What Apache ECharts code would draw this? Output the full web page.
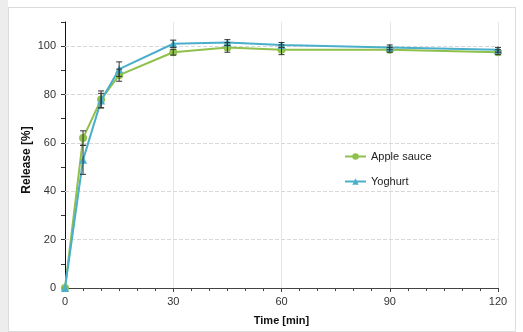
<!DOCTYPE html>
<html lang="en">
<head>
    <meta charset="utf-8">
    <title>Release</title>
    <script type="text/javascript" src="https://cdn.jsdelivr.net/npm/echarts@6/dist/echarts.min.js"></script>
    <style>
        html, body { margin: 0; padding: 0; background: #fff; }
        #strip { position: absolute; left: 0; top: 0; width: 8px; height: 332px; background: #ededed; }
        #main { position: absolute; left: 8px; top: 7px; width: 506px; height: 323px; border: 1px solid #dcdcdc; background: #fff; }
    </style>
</head>
<body>
<div id="strip"></div>
<div id="main"></div>
<script>
    // 数据
    var times = [0, 5, 10, 15, 30, 45, 60, 90, 120];
    var appleSauce = [0, 62, 78, 88, 97.5, 99.5, 98.5, 98.5, 97.5];
    var appleErr = [0, 3, 3.5, 2.5, 1.2, 2, 2, 1, 1];
    var yoghurt = [0, 53, 77.5, 90.5, 101, 101.5, 100.5, 99.5, 98.5];
    var yoghurtErr = [0, 6, 3, 3, 1.5, 1.2, 1, 1, 1];
    var xTicks = [0, 30, 60, 90, 120];
    var yTicks = [20, 40, 60, 80, 100];

    var green = '#8fc04c';
    var blue = '#4aafca';

    function pairs(vals) {
        var out = [];
        for (var i = 0; i < times.length; i++) out.push([times[i], vals[i]]);
        return out;
    }
    function errData(vals, errs) {
        var out = [];
        for (var i = 0; i < times.length; i++) {
            if (errs[i] > 0) out.push([times[i], vals[i] - errs[i], vals[i] + errs[i]]);
        }
        return out;
    }
    function errRender(params, api) {
        var lo = api.coord([api.value(0), api.value(1)]);
        var hi = api.coord([api.value(0), api.value(2)]);
        var w = 3;
        var st = { stroke: '#333', lineWidth: 1 };
        return {
            type: 'group',
            children: [
                { type: 'line', shape: { x1: lo[0], y1: lo[1], x2: hi[0], y2: hi[1] }, style: st },
                { type: 'line', shape: { x1: lo[0] - w, y1: lo[1], x2: lo[0] + w, y2: lo[1] }, style: st },
                { type: 'line', shape: { x1: hi[0] - w, y1: hi[1], x2: hi[0] + w, y2: hi[1] }, style: st }
            ]
        };
    }

    var myChart = echarts.init(document.getElementById('main'));
    var option = {
        animation: false,
        textStyle: { fontFamily: 'Liberation Sans, Arial, sans-serif' },
        grid: { left: 56, right: 17, top: 14, bottom: 40 },
        graphic: [{
            type: 'text',
            x: 18,
            y: 152,
            rotation: Math.PI / 2,
            style: {
                text: 'Release [%]',
                font: 'bold 12px Liberation Sans, Arial, sans-serif',
                fill: '#111',
                align: 'center',
                verticalAlign: 'middle'
            }
        }],
        legend: {
            orient: 'vertical',
            left: 330,
            top: 138,
            itemWidth: 21,
            itemHeight: 8,
            itemGap: 14,
            textStyle: { fontSize: 11, color: '#222' },
            data: ['Apple sauce', 'Yoghurt']
        },
        xAxis: {
            type: 'value',
            min: 0,
            max: 120,
            interval: 30,
            name: 'Time [min]',
            nameLocation: 'middle',
            nameGap: 27,
            nameTextStyle: { fontSize: 11, fontWeight: 'bold', color: '#111' },
            axisLine: { lineStyle: { color: '#444', width: 1 } },
            axisTick: { length: 4, lineStyle: { color: '#444' } },
            minorTick: { show: true, splitNumber: 6, length: 3, lineStyle: { color: '#444' } },
            axisLabel: {
                margin: 8, fontSize: 11, color: '#333',
                formatter: function (v) { return xTicks.indexOf(v) >= 0 ? String(v) : ''; }
            },
            splitLine: { show: true, lineStyle: { color: '#e6e6e6', width: 1 } }
        },
        yAxis: {
            type: 'value',
            min: 0,
            max: 110,
            interval: 10,
            axisLine: { show: true, lineStyle: { color: '#111', width: 1 } },
            axisTick: { show: true, length: 4, lineStyle: { color: '#333' } },
            axisLabel: {
                margin: 9, fontSize: 11, color: '#333',
                formatter: function (v) { return (v % 20 === 0 && v <= 100) ? String(v) : ''; }
            },
            splitLine: { show: false }
        },
        series: [
            {
                name: 'Apple sauce',
                type: 'line',
                data: pairs(appleSauce),
                symbol: 'circle',
                symbolSize: 8,
                color: green,
                lineStyle: { width: 2, color: green },
                itemStyle: { color: green },
                z: 3,
                markLine: {
                    silent: true,
                    symbol: 'none',
                    label: { show: false },
                    lineStyle: { color: '#d8d8d8', type: 'dashed', width: 1 },
                    data: yTicks.map(function (v) { return { yAxis: v }; }),
                    z: 1
                }
            },
            {
                name: 'Yoghurt',
                type: 'line',
                data: pairs(yoghurt),
                symbol: 'triangle',
                symbolSize: 8,
                color: blue,
                lineStyle: { width: 2, color: blue },
                itemStyle: { color: blue },
                z: 4
            },
            {
                type: 'custom',
                data: errData(appleSauce, appleErr),
                renderItem: errRender,
                encode: { x: 0, y: [1, 2] },
                z: 5,
                silent: true
            },
            {
                type: 'custom',
                data: errData(yoghurt, yoghurtErr),
                renderItem: errRender,
                encode: { x: 0, y: [1, 2] },
                z: 5,
                silent: true
            }
        ]
    };
    myChart.setOption(option);
</script>
</body>
</html>
